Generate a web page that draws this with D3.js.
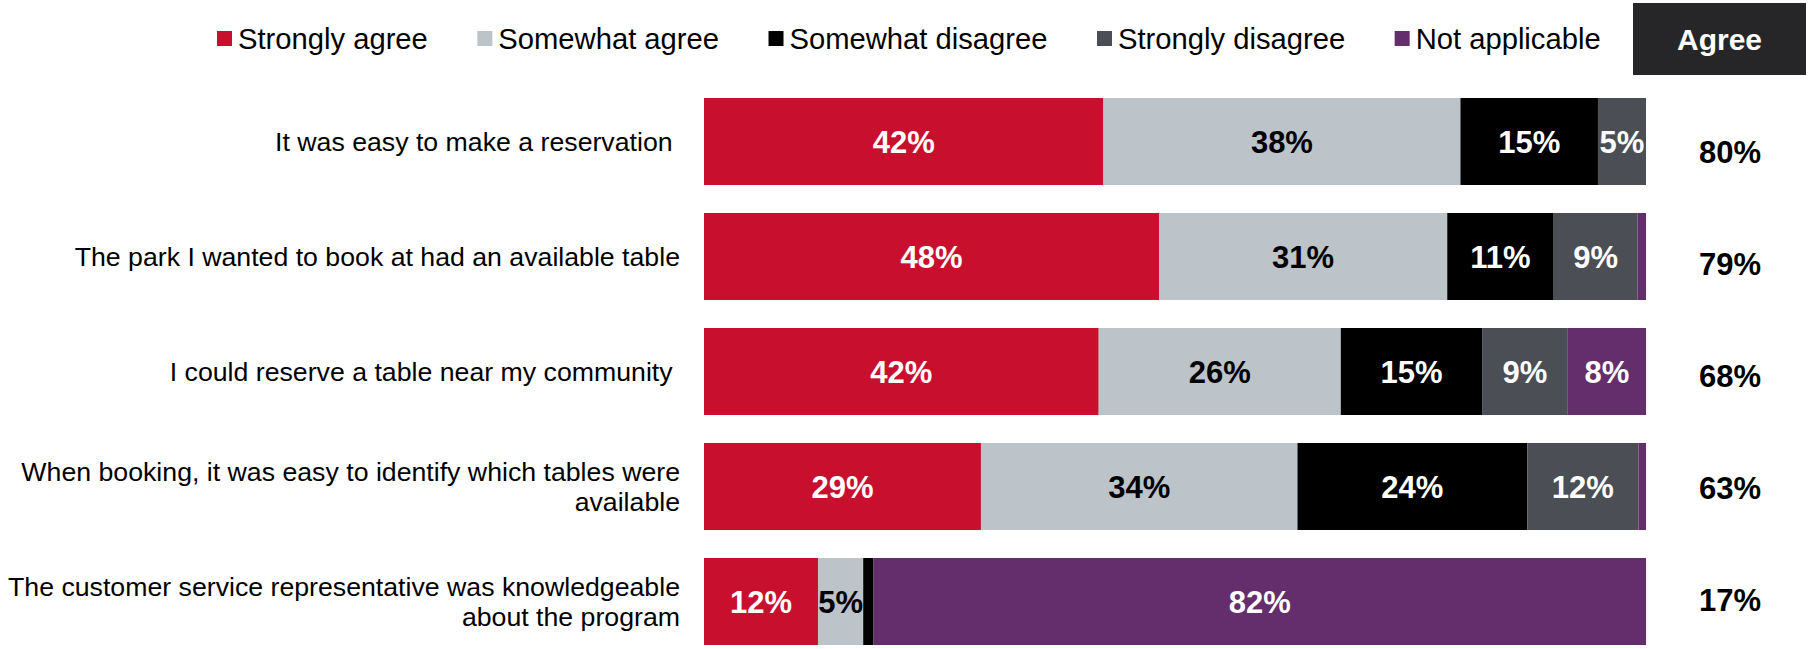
<!DOCTYPE html>
<html>
<head>
<meta charset="utf-8">
<script src="https://cdn.jsdelivr.net/npm/d3@7"></script>
<style>
  html, body { margin: 0; padding: 0; background: #fff; }
  svg { display: block; font-family: "Liberation Sans", Arial, sans-serif; }
  text { white-space: pre; }
</style>
</head>
<body>
<svg id="chart" width="1816" height="649"></svg>
<script>
// ---- data ----
const categories = [
  ["It was easy to make a reservation "],
  ["The park I wanted to book at had an available table"],
  ["I could reserve a table near my community "],
  ["When booking, it was easy to identify which tables were", "available"],
  ["The customer service representative was knowledgeable", "about the program"]
];
const seriesNames = ["Strongly agree", "Somewhat agree", "Somewhat disagree", "Strongly disagree", "Not applicable"];
const stronglyAgree    = [42.4, 48.3, 41.9, 29.4, 12.1];
const somewhatAgree    = [37.9, 30.6, 25.7, 33.6, 4.8];
const somewhatDisagree = [14.6, 11.3, 15.0, 24.4, 1.1];
const stronglyDisagree = [5.1, 8.9, 9.1, 11.8, 0.0];
const notApplicable    = [0.0, 0.9, 8.3, 0.8, 82.0];
const agreeTotals      = [80, 79, 68, 63, 17];
const agreeHeader = "Agree";

const colors = ["#C8102E", "#BCC3C9", "#000000", "#4B4E55", "#642D6B"];
const labelColors = ["#fff", "#000", "#fff", "#fff", "#fff"];

// ---- build ----
const svg = d3.select("#chart");
const series = [stronglyAgree, somewhatAgree, somewhatDisagree, stronglyDisagree, notApplicable];
const rows = categories.map((c, i) => {
  const r = { idx: i };
  seriesNames.forEach((s, j) => r[s] = series[j][i]);
  return r;
});
const stack = d3.stack().keys(seriesNames)(rows);

const x = d3.scaleLinear().domain([0, 100]).range([704, 1646]);
const y = d3.scaleBand().domain(d3.range(categories.length)).range([70, 673]).padding(0.2435);
const yAgree = d3.scalePoint().domain(d3.range(categories.length)).range([152, 600]);

// bars
const layers = svg.append("g").selectAll("g").data(stack).join("g")
  .attr("fill", (d, i) => colors[i]);
layers.selectAll("rect").data(d => d).join("rect")
  .attr("x", d => x(d[0]))
  .attr("y", (d, i) => y(i))
  .attr("width", d => Math.max(0, x(d[1]) - x(d[0])))
  .attr("height", y.bandwidth());

// value labels
stack.forEach((layer, li) => {
  svg.append("g").selectAll("text").data(layer.filter(d => d[1] - d[0] >= 3)).join("text")
    .attr("x", d => (x(d[0]) + x(d[1])) / 2)
    .attr("y", d => y(d.data.idx) + y.bandwidth() / 2)
    .attr("dy", "0.36em")
    .attr("text-anchor", "middle")
    .attr("font-size", 31)
    .attr("font-weight", "bold")
    .attr("fill", labelColors[li])
    .text(d => Math.round(d[1] - d[0]) + "%");
});

// category labels
const catG = svg.append("g");
categories.forEach((lines, i) => {
  const lh = 29.5;
  const cy = y(i) + y.bandwidth() / 2;
  const t = catG.append("text")
    .attr("text-anchor", "end")
    .attr("font-size", 26.7)
    .attr("fill", "#000");
  lines.forEach((ln, k) => {
    t.append("tspan")
      .attr("x", 680)
      .attr("y", cy + (k - (lines.length - 1) / 2) * lh)
      .attr("dy", "0.36em")
      .text(ln);
  });
});

// agree column
svg.append("rect").attr("x", 1633).attr("y", 3).attr("width", 173).attr("height", 72).attr("fill", "#262629");
svg.append("text").attr("x", 1719.5).attr("y", 39).attr("dy", "0.36em")
  .attr("text-anchor", "middle").attr("font-size", 30).attr("font-weight", "bold")
  .attr("fill", "#fff").text(agreeHeader);
svg.append("g").selectAll("text").data(agreeTotals).join("text")
  .attr("x", 1730)
  .attr("y", (d, i) => yAgree(i))
  .attr("dy", "0.36em")
  .attr("text-anchor", "middle")
  .attr("font-size", 31)
  .attr("font-weight", "bold")
  .attr("fill", "#000")
  .text(d => d + "%");

// legend
const legend = svg.append("g");
let lx = 217;
seriesNames.forEach((name, i) => {
  legend.append("rect").attr("x", lx).attr("y", 31).attr("width", 15).attr("height", 15).attr("fill", colors[i]);
  const t = legend.append("text").attr("x", lx + 21).attr("y", 38.5).attr("dy", "0.36em")
    .attr("font-size", 29.2).attr("fill", "#000").text(name);
  lx = lx + 21 + t.node().getComputedTextLength() + 49.5;
});
</script>
</body>
</html>
